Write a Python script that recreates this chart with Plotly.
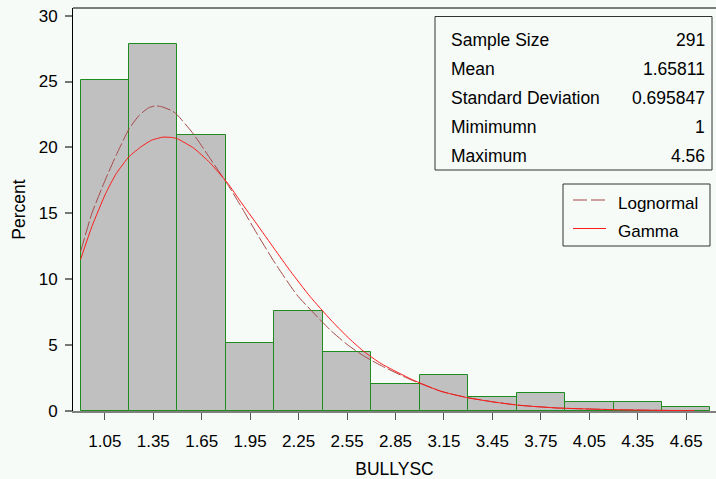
import plotly.graph_objects as go

# Histogram of BULLYSC: bin midpoints and percent of 291 observations
bin_mid = [1.05, 1.35, 1.65, 1.95, 2.25, 2.55, 2.85, 3.15, 3.45, 3.75, 4.05, 4.35, 4.65]
bin_pct = [25.09, 27.84, 20.96, 5.15, 7.56, 4.47, 2.06, 2.75, 1.03, 1.37, 0.69, 0.69, 0.34]
bin_width = 0.3

# Fitted density curves, scaled to percent per bin
lognormal_x = [0.90, 0.97, 1.055, 1.12, 1.20, 1.26, 1.32, 1.36, 1.40, 1.47, 1.50, 1.60,
               1.70, 1.81, 1.89, 1.99, 2.10, 2.24, 2.45, 2.55, 2.65, 2.76, 2.94, 3.13,
               3.29, 3.46, 3.62, 3.85, 4.24, 4.70]
lognormal_pct = [12.1, 15.0, 17.6, 19.4, 21.4, 22.4, 23.0, 23.15, 23.1, 22.75, 22.45, 21.0,
                 19.2, 17.2, 15.6, 13.5, 11.3, 8.8, 6.1, 5.05, 4.2, 3.45, 2.4, 1.5,
                 1.03, 0.68, 0.43, 0.23, 0.09, 0.02]
gamma_x = [0.90, 0.97, 1.055, 1.12, 1.20, 1.28, 1.34, 1.41, 1.47, 1.50, 1.60, 1.70,
           1.81, 1.89, 1.99, 2.10, 2.20, 2.32, 2.45, 2.55, 2.65, 2.76, 2.95, 3.13,
           3.29, 3.46, 3.62, 3.85, 4.24, 4.70]
gamma_pct = [11.5, 14.0, 16.5, 18.0, 19.3, 20.1, 20.55, 20.78, 20.75, 20.65, 19.95, 18.85,
             17.3, 15.9, 14.2, 12.3, 10.6, 8.7, 6.9, 5.65, 4.55, 3.6, 2.4, 1.5,
             1.02, 0.68, 0.43, 0.23, 0.09, 0.02]

x_ticks = [1.05, 1.35, 1.65, 1.95, 2.25, 2.55, 2.85, 3.15, 3.45, 3.75, 4.05, 4.35, 4.65]
x_tick_text = ["1.05", "1.35", "1.65", "1.95", "2.25", "2.55", "2.85", "3.15",
               "3.45", "3.75", "4.05", "4.35", "4.65"]
y_ticks = [0, 5, 10, 15, 20, 25, 30]

stat_labels = ["Sample Size", "Mean", "Standard Deviation", "Mimimumn", "Maximum"]
stat_values = ["291", "1.65811", "0.695847", "1", "4.56"]

W, H = 716, 479
ML, MR, MT, MB = 73, 0, 8, 68
BG = "#f6fbf8"
FONT = "Liberation Sans, Arial, Helvetica, sans-serif"
LOGN_COLOR = "#a84848"
GAMMA_COLOR = "#ff1a1a"


def px_x(px):
    return (px - ML) / (W - ML - MR)


def px_y(py):
    return (H - MB - py) / (H - MT - MB)


fig = go.Figure()

fig.add_trace(go.Bar(
    x=bin_mid, y=bin_pct, width=bin_width,
    marker=dict(color="#c0c0c0", line=dict(color="#1e8c1e", width=1)),
    showlegend=False, hoverinfo="x+y",
))
fig.add_trace(go.Scatter(
    x=lognormal_x, y=lognormal_pct, mode="lines", name="Lognormal",
    line=dict(color=LOGN_COLOR, width=1, dash="14px,3px", shape="spline", smoothing=0.5),
    showlegend=False,
))
fig.add_trace(go.Scatter(
    x=gamma_x, y=gamma_pct, mode="lines", name="Gamma",
    line=dict(color=GAMMA_COLOR, width=1, shape="spline", smoothing=0.5),
    showlegend=False,
))

shapes = [
    # top frame line
    dict(type="line", xref="paper", yref="paper", x0=0, x1=1, y0=1, y1=1,
         line=dict(color="black", width=1)),
    # statistics inset
    dict(type="rect", xref="paper", yref="paper",
         x0=px_x(435), x1=px_x(712), y0=px_y(170), y1=px_y(16.5),
         line=dict(color="#333333", width=1), fillcolor=BG),
    # legend box
    dict(type="rect", xref="paper", yref="paper",
         x0=px_x(563), x1=px_x(710), y0=px_y(246), y1=px_y(184),
         line=dict(color="#333333", width=1), fillcolor=BG),
    dict(type="line", xref="paper", yref="paper",
         x0=px_x(573), x1=px_x(606), y0=px_y(200), y1=px_y(200),
         line=dict(color=LOGN_COLOR, width=1, dash="14px,4px")),
    dict(type="line", xref="paper", yref="paper",
         x0=px_x(573), x1=px_x(606), y0=px_y(228.5), y1=px_y(228.5),
         line=dict(color=GAMMA_COLOR, width=1)),
]

annotations = []
row_y = [40, 69, 98, 127, 156]
for label, value, ry in zip(stat_labels, stat_values, row_y):
    annotations.append(dict(xref="paper", yref="paper", x=px_x(449), y=px_y(ry),
                            text=label, showarrow=False, xanchor="left", yanchor="middle",
                            font=dict(family=FONT, size=17.5, color="black")))
    annotations.append(dict(xref="paper", yref="paper", x=px_x(707), y=px_y(ry),
                            text=value, showarrow=False, xanchor="right", yanchor="middle",
                            font=dict(family=FONT, size=17.5, color="black")))
for name, ry in [("Lognormal", 203), ("Gamma", 231.5)]:
    annotations.append(dict(xref="paper", yref="paper", x=px_x(616), y=px_y(ry),
                            text=name, showarrow=False, xanchor="left", yanchor="middle",
                            font=dict(family=FONT, size=17, color="black")))

fig.update_layout(
    width=W, height=H,
    margin=dict(l=ML, r=MR, t=MT, b=MB, pad=0),
    paper_bgcolor=BG, plot_bgcolor=BG,
    font=dict(family=FONT, size=17, color="black"),
    shapes=shapes, annotations=annotations,
    bargap=0,
    xaxis=dict(
        range=[0.853, 0.853 + (W - ML - MR) / 161.5],
        tickmode="array", tickvals=x_ticks, ticktext=x_tick_text,
        ticks="outside", ticklen=7, tickcolor="#555555", tickwidth=1,
        ticklabelstandoff=7,
        showline=True, linecolor="#808080", linewidth=2,
        showgrid=False, zeroline=False, layer="above traces",
        title=dict(text="BULLYSC", standoff=12, font=dict(size=17.5)),
        tickfont=dict(size=17),
    ),
    yaxis=dict(
        range=[0, 30.58],
        tickmode="array", tickvals=y_ticks,
        ticks="outside", ticklen=7, tickcolor="#777777", tickwidth=1.5,
        ticklabelstandoff=4,
        showline=True, linecolor="black", linewidth=1,
        showgrid=False, zeroline=False, layer="above traces",
        title=dict(text="Percent", standoff=8, font=dict(size=17.5)),
        tickfont=dict(size=17),
    ),
)

fig.write_html("out.html")
